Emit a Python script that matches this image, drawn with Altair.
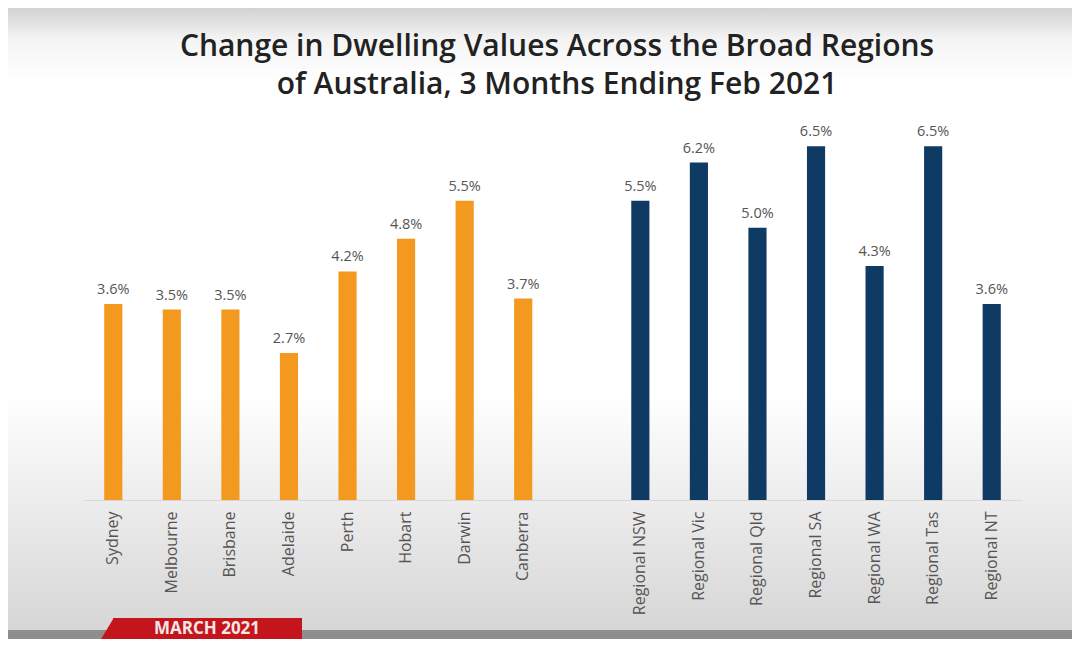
import altair as alt
import pandas as pd

capitals = ["Sydney", "Melbourne", "Brisbane", "Adelaide", "Perth", "Hobart", "Darwin", "Canberra"]
capital_values = [3.6, 3.5, 3.5, 2.7, 4.2, 4.8, 5.5, 3.7]
regionals = ["Regional NSW", "Regional Vic", "Regional Qld", "Regional SA", "Regional WA", "Regional Tas", "Regional NT"]
regional_values = [5.5, 6.2, 5.0, 6.5, 4.3, 6.5, 3.6]
spacer = " "

title_lines = ["Change in Dwelling Values Across the Broad Regions", "of Australia, 3 Months Ending Feb 2021"]
badge_text = "MARCH 2021"

df = pd.DataFrame({
    "region": capitals + regionals,
    "value": capital_values + regional_values,
    "group": ["Capital"] * len(capitals) + ["Regional"] * len(regionals),
})
domain = capitals + [spacer] + regionals

W, H = 937, 381
PL, PT, PR, PB = 76, 111, 51, 139

one = alt.Data(values=[{"a": 1}])

bg = alt.Chart(one).mark_rect(
    fill=alt.Gradient(
        gradient="linear", x1=0, y1=0, x2=0, y2=1,
        stops=[
            alt.GradientStop(offset=0.0, color="#d2d2d2"),
            alt.GradientStop(offset=0.05, color="#f4f4f4"),
            alt.GradientStop(offset=0.12, color="#ffffff"),
            alt.GradientStop(offset=0.62, color="#ffffff"),
            alt.GradientStop(offset=1.0, color="#d6d6d6"),
        ],
    )
).encode(x=alt.value(-PL), x2=alt.value(W + PR), y=alt.value(-PT), y2=alt.value(H + 130))

strip = alt.Chart(one).mark_rect(color="#8e8e8e").encode(
    x=alt.value(-PL), x2=alt.value(W + PR), y=alt.value(H + 130), y2=alt.value(H + PB)
)

tab = alt.Chart(one).mark_rect(color="#c3151b").encode(
    x=alt.value(29), x2=alt.value(218), y=alt.value(H + 118), y2=alt.value(H + PB)
)
tab_slant = alt.Chart(one).mark_point(
    shape="M 0.6 -1 L 0.6 1 L -0.6 1 Z", filled=True, color="#c3151b", opacity=1, size=841
).encode(x=alt.value(21), y=alt.value(H + 118 + 14.5))
tab_text = alt.Chart(one).mark_text(
    text=badge_text, font="Open Sans", fontWeight="bold", fontSize=17, color="#f3e6e6"
).encode(x=alt.value(123), y=alt.value(H + 129))

title1 = alt.Chart(one).mark_text(
    text=title_lines[0], font="Open Sans", fontSize=30, fontWeight=600, color="#222222"
).encode(x=alt.value(473), y=alt.value(-72))
title2 = alt.Chart(one).mark_text(
    text=title_lines[1], font="Open Sans", fontSize=30, fontWeight=600, color="#222222"
).encode(x=alt.value(473), y=alt.value(-34))

base = alt.Chart(df).encode(
    x=alt.X("region:N", scale=alt.Scale(domain=domain, paddingInner=0.69, paddingOuter=0.345),
            sort=domain,
            axis=alt.Axis(title=None, labelAngle=-90, ticks=False, labelPadding=11,
                          labelFont="Open Sans", labelFontSize=16, labelColor="#555555",
                          domainColor="#d9d9d9", domainWidth=1.2, grid=False, zindex=2)),
    y=alt.Y("value:Q", scale=alt.Scale(domain=[0, 7]), axis=None),
)

bars = base.mark_bar().encode(
    color=alt.Color("group:N", scale=alt.Scale(domain=["Capital", "Regional"], range=["#f4991f", "#0f3a63"]),
                    legend=None)
)
labels = base.transform_calculate(label="format(datum.value, '.1f') + '%'").mark_text(
    dy=-14, font="Open Sans", fontSize=14.5, color="#555555"
).encode(text="label:N")

chart = alt.layer(bg, strip, tab, tab_slant, tab_text, title1, title2, bars, labels).properties(
    width=W, height=H,
    autosize=alt.AutoSizeParams(type="none"),
    padding={"left": PL, "top": PT, "right": PR, "bottom": PB},
).configure_view(stroke=None).configure(background="white")

chart.save("out.html", embed_options={"renderer": "svg", "actions": False})
